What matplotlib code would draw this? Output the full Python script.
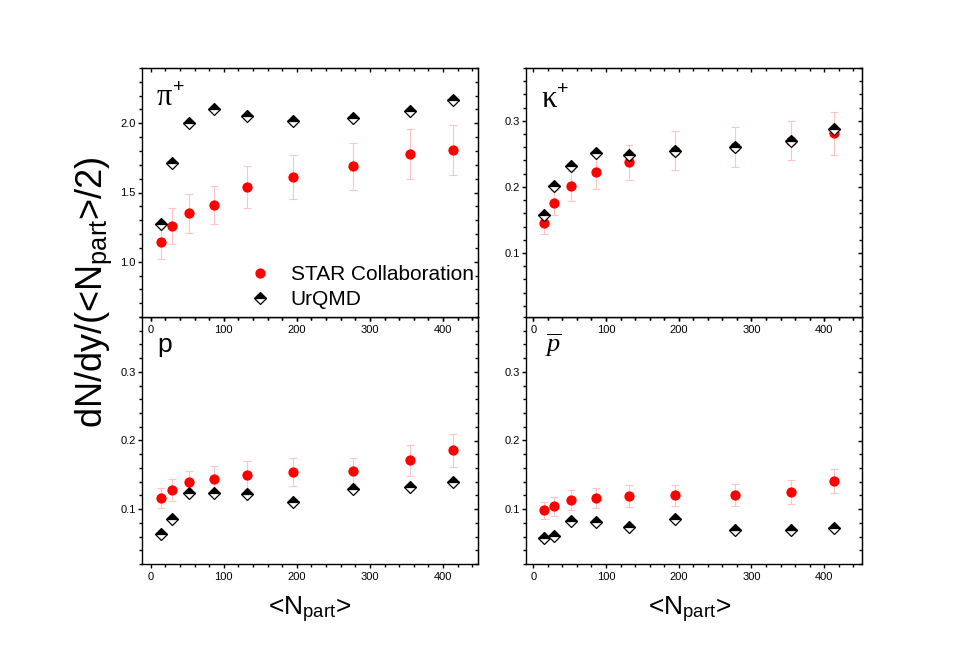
import matplotlib
matplotlib.use("Agg")
import matplotlib.pyplot as plt
from matplotlib.ticker import MultipleLocator, FormatStrFormatter
from matplotlib.lines import Line2D

plt.rcParams['font.family'] = ['Liberation Sans', 'DejaVu Sans']
plt.rcParams['mathtext.fontset'] = 'custom'
plt.rcParams['mathtext.rm'] = 'Liberation Sans'
plt.rcParams['mathtext.it'] = 'Liberation Serif:italic'

# ---------------- data ----------------
npart = [14.5, 29, 52.5, 86, 132, 195, 277, 355, 414]

pi_star = [1.14, 1.26, 1.35, 1.41, 1.54, 1.61, 1.69, 1.78, 1.81]
pi_star_err = [0.12, 0.13, 0.14, 0.14, 0.15, 0.16, 0.17, 0.18, 0.18]
pi_urqmd = [1.27, 1.71, 2.00, 2.10, 2.05, 2.02, 2.04, 2.09, 2.17]

k_star = [0.145, 0.176, 0.201, 0.222, 0.237, 0.255, 0.260, 0.270, 0.281]
k_star_err = [0.016, 0.019, 0.023, 0.025, 0.027, 0.029, 0.030, 0.030, 0.032]
k_urqmd = [0.157, 0.201, 0.232, 0.251, 0.248, 0.254, 0.261, 0.269, 0.287]

p_star = [0.116, 0.128, 0.139, 0.144, 0.150, 0.154, 0.155, 0.171, 0.186]
p_star_err = [0.015, 0.016, 0.017, 0.019, 0.020, 0.020, 0.019, 0.023, 0.024]
p_urqmd = [0.064, 0.085, 0.123, 0.123, 0.122, 0.110, 0.129, 0.132, 0.140]

pbar_star = [0.098, 0.104, 0.113, 0.116, 0.119, 0.120, 0.120, 0.125, 0.141]
pbar_star_err = [0.012, 0.014, 0.0145, 0.0147, 0.016, 0.015, 0.016, 0.017, 0.018]
pbar_urqmd = [0.058, 0.061, 0.083, 0.081, 0.074, 0.085, 0.070, 0.069, 0.072]

legend_labels = ["STAR Collaboration", "UrQMD"]

# ---------------- figure ----------------
W, H = 959, 672
fig = plt.figure(figsize=(W / 100, H / 100), dpi=100)


def rect(x0, y0, x1, y1):
    return [x0 / W, 1 - y1 / H, (x1 - x0) / W, (y1 - y0) / H]


def fpx(x, y):
    return x / W, 1 - y / H


STAR_C = '#ff0000'
ERR_C = '#ffc4c4'


def style(ax, xlim, ylim, ymaj, ymin, yfmt):
    ax.set_xlim(*xlim)
    ax.set_ylim(*ylim)
    ax.xaxis.set_major_locator(MultipleLocator(100))
    ax.xaxis.set_minor_locator(MultipleLocator(20))
    ax.yaxis.set_major_locator(MultipleLocator(ymaj))
    ax.yaxis.set_minor_locator(MultipleLocator(ymin))
    ax.yaxis.set_major_formatter(FormatStrFormatter(yfmt))
    ax.xaxis.set_major_formatter(FormatStrFormatter('%d'))
    ax.tick_params(which='both', direction='out', top=False, right=False,
                   labelsize=8, colors='black', width=1.0)
    ax.tick_params(which='major', length=3)
    ax.tick_params(which='minor', length=2)
    ax.tick_params(axis='y', pad=1.5)
    ax.tick_params(axis='x', pad=3)
    for s in ax.spines.values():
        s.set_linewidth(1.0)
    sx = ax.secondary_xaxis('top')
    sx.xaxis.set_major_locator(MultipleLocator(100))
    sx.xaxis.set_minor_locator(MultipleLocator(20))
    sx.tick_params(which='both', direction='in', labeltop=False, width=1.0)
    sx.tick_params(which='major', length=3)
    sx.tick_params(which='minor', length=2)
    sy = ax.secondary_yaxis('right')
    sy.yaxis.set_major_locator(MultipleLocator(ymaj))
    sy.yaxis.set_minor_locator(MultipleLocator(ymin))
    sy.tick_params(which='both', direction='in', labelright=False, width=1.0)
    sy.tick_params(which='major', length=3)
    sy.tick_params(which='minor', length=2)


def draw(ax, star, err, urq):
    ax.errorbar(npart, star, yerr=err, fmt='none', ecolor=ERR_C,
                elinewidth=0.8, capsize=3.2, capthick=0.8, zorder=2)
    ax.plot(npart, star, 'o', color=STAR_C, markersize=7.4, zorder=3,
            markeredgewidth=0)
    ax.plot(npart, urq, 'D', markersize=5.8, fillstyle='top',
            markerfacecolor='black', markerfacecoloralt='white',
            markeredgecolor='black', markeredgewidth=0.9, zorder=4)


# bottom row first so top row tick labels are drawn on top
ax_p = fig.add_axes(rect(142, 317, 478, 564))
ax_pb = fig.add_axes(rect(526, 317, 862, 564))
ax_pi = fig.add_axes(rect(142, 68, 478, 317))
ax_k = fig.add_axes(rect(526, 68, 862, 317))
for a in (ax_p, ax_pb):
    a.patch.set_alpha(0)

draw(ax_pi, pi_star, pi_star_err, pi_urqmd)
draw(ax_k, k_star, k_star_err, k_urqmd)
draw(ax_p, p_star, p_star_err, p_urqmd)
draw(ax_pb, pbar_star, pbar_star_err, pbar_urqmd)

style(ax_pi, (-12, 448), (0.6, 2.4), 0.5, 0.1, '%.1f')
style(ax_k, (-10, 452), (0.003, 0.38), 0.1, 0.02, '%.1f')
style(ax_p, (-12, 448), (0.02, 0.38), 0.1, 0.02, '%.1f')
style(ax_pb, (-10, 452), (0.02, 0.38), 0.1, 0.02, '%.1f')

# legend
h_star = Line2D([], [], linestyle='none', marker='o', color=STAR_C,
                markersize=7.4, markeredgewidth=0)
h_urq = Line2D([], [], linestyle='none', marker='D', markersize=5.8,
               fillstyle='top', markerfacecolor='black',
               markerfacecoloralt='white', markeredgecolor='black',
               markeredgewidth=0.9)
lx, ly = fpx(250, 287)
ax_pi.legend([h_star, h_urq], legend_labels, loc='center left',
             bbox_to_anchor=(lx, ly), bbox_transform=fig.transFigure,
             frameon=False, fontsize=15, borderpad=0, borderaxespad=0,
             handlelength=1.0, handletextpad=0.95, labelspacing=0.3)

# panel labels
fig.text(*fpx(157, 105), 'π', fontsize=22, family='Liberation Serif',
         ha='left', va='baseline')
fig.text(*fpx(173, 92), '+', fontsize=14, ha='left', va='baseline')
fig.text(*fpx(541, 107), 'κ', fontsize=22, family='Liberation Serif',
         ha='left', va='baseline')
fig.text(*fpx(557, 94), '+', fontsize=14, ha='left', va='baseline')
fig.text(*fpx(157, 352), 'p', fontsize=19, ha='left', va='baseline')
fig.text(*fpx(545, 352), r'$\overline{p}$', fontsize=19, ha='left',
         va='baseline')

# axis titles
fig.text(*fpx(102, 292), r'dN/dy/(<N$_{\mathrm{part}}$>/2)', fontsize=26,
         rotation=90, rotation_mode='anchor', ha='center', va='baseline')
fig.text(*fpx(310, 615), r'<N$_{\mathrm{part}}$>', fontsize=19,
         ha='center', va='baseline')
fig.text(*fpx(690, 615), r'<N$_{\mathrm{part}}$>', fontsize=19,
         ha='center', va='baseline')

fig.savefig('out.png', dpi=100)
